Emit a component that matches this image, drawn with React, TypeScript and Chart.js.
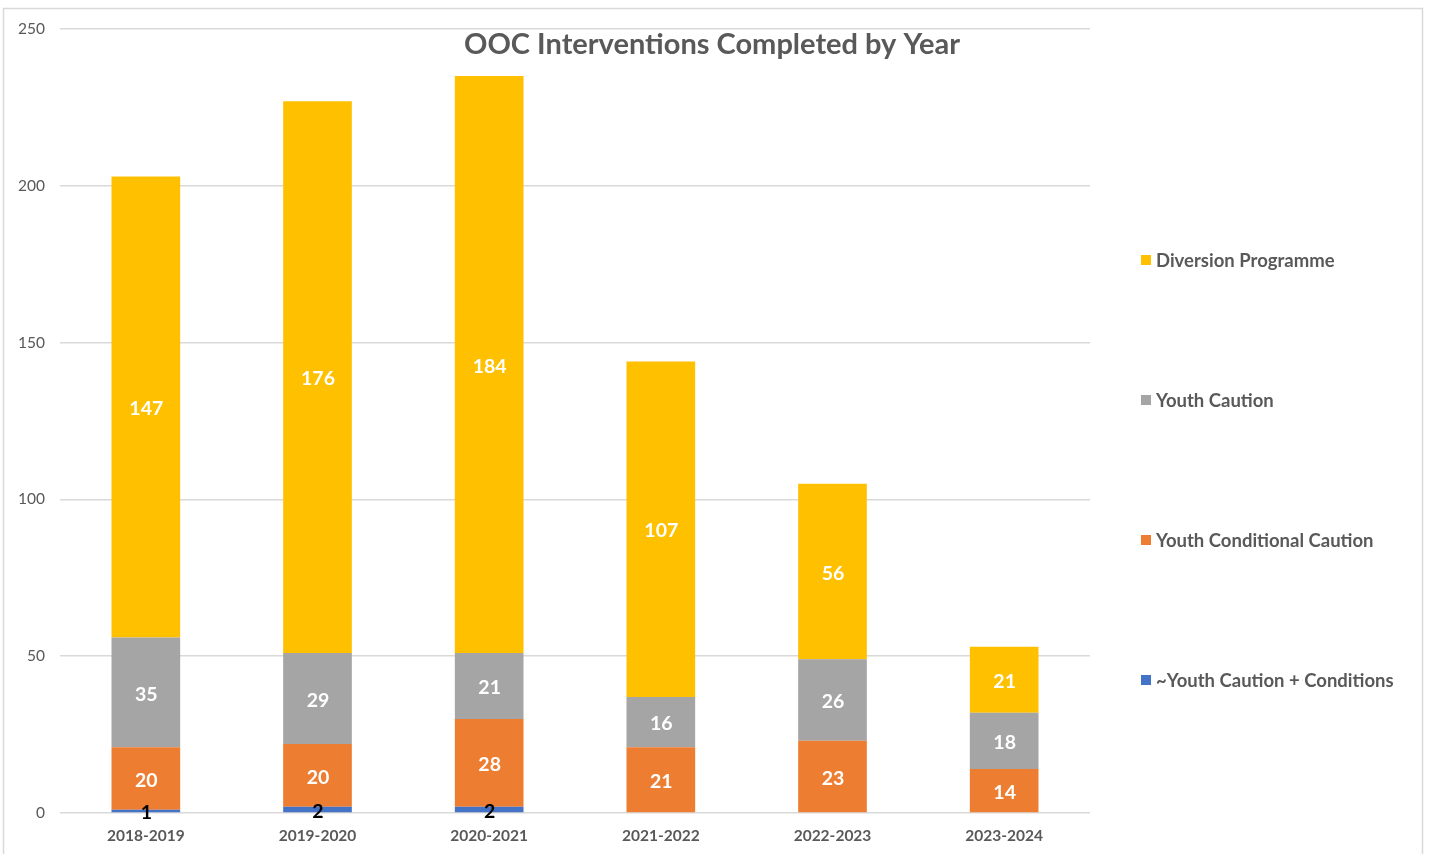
import React, { useEffect, useRef } from "react";
import { Chart, registerables } from "chart.js";

Chart.register(...registerables);

const categories = ["2018-2019", "2019-2020", "2020-2021", "2021-2022", "2022-2023", "2023-2024"];
const youthCautionConditions = [1, 2, 2, 0, 0, 0];
const youthConditionalCaution = [20, 20, 28, 21, 23, 14];
const youthCaution = [35, 29, 21, 16, 26, 18];
const diversionProgramme = [147, 176, 184, 107, 56, 21];
const yTicks = [0, 50, 100, 150, 200, 250];

const seriesNames = ["~Youth Caution + Conditions", "Youth Conditional Caution", "Youth Caution", "Diversion Programme"];
const seriesColors = ["#4472C4", "#ED7D31", "#A5A5A5", "#FFC000"];
const labelColors = ["#000000", "#FFFFFF", "#FFFFFF", "#FFFFFF"];
const titleText = "OOC Interventions Completed by Year";

const FONT = "Lato, 'Open Sans', sans-serif";
const W = 1431;
const H = 854;

export default function App() {
  const ref = useRef<HTMLCanvasElement | null>(null);
  useEffect(() => {
    if (!ref.current) return;
    const dataSets = [youthCautionConditions, youthConditionalCaution, youthCaution, diversionProgramme];

    const decor = {
      id: "decor",
      beforeDraw(chart: any) {
        const ctx = chart.ctx;
        ctx.save();
        ctx.fillStyle = "#ffffff";
        ctx.fillRect(0, 0, chart.width, chart.height);
        ctx.strokeStyle = "#d9d9d9";
        ctx.lineWidth = 1.5;
        ctx.strokeRect(3.5, 8.5, 1419, 850);
        ctx.restore();
      },
      afterDraw(chart: any) {
        const ctx = chart.ctx;
        ctx.save();
        // title
        ctx.fillStyle = "#595959";
        ctx.font = `bold 29px ${FONT}`;
        ctx.textAlign = "center";
        ctx.textBaseline = "middle";
        ctx.fillText(titleText, 712, 45);
        // legend (reversed order)
        const ys = [260, 400, 540, 680];
        ctx.font = `bold 18.5px ${FONT}`;
        ctx.textAlign = "left";
        for (let i = 0; i < 4; i++) {
          const si = 3 - i;
          ctx.fillStyle = seriesColors[si];
          ctx.fillRect(1141, ys[i] - 5, 10, 10);
          ctx.fillStyle = "#595959";
          ctx.fillText(seriesNames[si], 1156, ys[i] + 1);
        }
        ctx.restore();
      },
      afterDatasetsDraw(chart: any) {
        const ctx = chart.ctx;
        ctx.save();
        ctx.font = `bold 19.5px ${FONT}`;
        ctx.textAlign = "center";
        ctx.textBaseline = "middle";
        chart.data.datasets.forEach((ds: any, di: number) => {
          const meta = chart.getDatasetMeta(di);
          meta.data.forEach((el: any, i: number) => {
            const v = ds.data[i];
            if (!v) return;
            const y = (el.y + el.base) / 2;
            ctx.fillStyle = labelColors[di];
            ctx.fillText(String(v), el.x + 0.5, di === 0 ? y + 2 : y + 2);
          });
        });
        ctx.restore();
      },
    };

    const chart = new Chart(ref.current, {
      type: "bar",
      data: {
        labels: categories,
        datasets: dataSets.map((d, i) => ({
          label: seriesNames[i],
          data: d,
          backgroundColor: seriesColors[i],
          borderWidth: 0,
          barPercentage: 0.4,
          categoryPercentage: 1,
        })),
      },
      options: {
        animation: false,
        responsive: true,
        maintainAspectRatio: false,
        layout: { padding: { left: 0, right: W - 1090, top: 29, bottom: 11 } },
        plugins: {
          legend: { display: false },
          title: { display: false },
          tooltip: { enabled: false },
        },
        scales: {
          x: {
            stacked: true,
            grid: { display: false, drawTicks: false },
            border: { display: false },
            ticks: {
              color: "#595959",
              font: { family: FONT, size: 15.5, weight: "bold" },
              padding: 14,
              maxRotation: 0,
            },
            afterFit(scale: any) {
              scale.height = 30;
            },
          },
          y: {
            stacked: true,
            min: 0,
            max: 250,
            afterBuildTicks(scale: any) {
              scale.ticks = yTicks.map((v) => ({ value: v }));
            },
            grid: { color: "#d9d9d9", lineWidth: 1.5, drawTicks: false },
            border: { display: false },
            ticks: {
              color: "#595959",
              font: { family: FONT, size: 15.5 },
              padding: 15,
            },
            afterFit(scale: any) {
              scale.width = 60;
            },
          },
        },
      },
      plugins: [decor],
    } as any);
    return () => chart.destroy();
  }, []);

  return (
    <div style={{ position: "fixed", left: 0, top: 0, width: W, height: H }}>
      <canvas ref={ref} />
    </div>
  );
}
